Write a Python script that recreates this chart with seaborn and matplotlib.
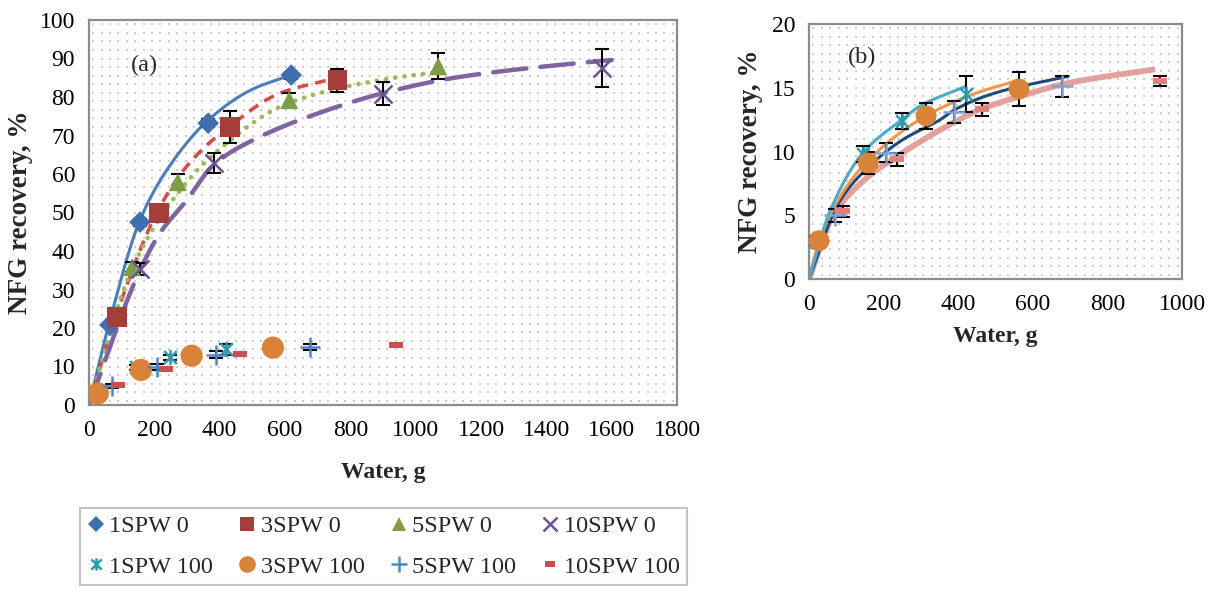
import numpy as np
import matplotlib
matplotlib.use("Agg")
import matplotlib.pyplot as plt
from matplotlib.path import Path
from matplotlib.lines import Line2D
import seaborn as sns

sns.set_theme(style="white")
plt.rcParams["font.family"] = ["Liberation Serif", "DejaVu Serif"]

# ---------------- measured points (water, g ; NFG recovery, %) ----------------
w_1spw0 = [64, 156, 365, 619]
r_1spw0 = [20.8, 47.5, 73.2, 85.7]
e_1spw0 = [0.6, 0.9, 1.0, 0.9]

w_3spw0 = [86, 214, 432, 760]
r_3spw0 = [22.9, 49.9, 72.2, 84.4]
e_3spw0 = [1.0, 1.2, 4.2, 3.0]

w_5spw0 = [132, 272, 613, 1069]
r_5spw0 = [35.8, 57.9, 79.2, 88.0]
e_5spw0 = [1.3, 2.0, 1.8, 3.4]

w_10spw0 = [156, 383, 900, 1571]
r_10spw0 = [35.3, 62.9, 80.8, 87.5]
e_10spw0 = [1.5, 2.6, 3.0, 5.0]

w_1spw100 = [6, 145, 249, 420]
r_1spw100 = [3.0, 9.8, 12.4, 14.5]
e_1spw100 = [0.3, 0.6, 0.6, 1.4]

w_3spw100 = [27, 159, 314, 563]
r_3spw100 = [3.0, 9.1, 12.8, 14.9]
e_3spw100 = [0.3, 0.9, 1.0, 1.35]

w_5spw100 = [70, 207, 389, 678]
r_5spw100 = [5.0, 9.9, 13.1, 15.1]
e_5spw100 = [0.5, 0.75, 0.9, 0.8]

w_10spw100 = [90, 235, 463, 940]
r_10spw100 = [5.3, 9.4, 13.3, 15.5]
e_10spw100 = [0.4, 0.5, 0.5, 0.4]

# ---------------- fitted recovery curves (knots along each curve) ----------------
fx_1spw0 = [0, 64, 156, 238, 365, 500, 619]
fy_1spw0 = [0, 22.0, 48.0, 61.0, 74.0, 82.0, 85.7]
fx_3spw0 = [0, 86, 214, 309, 432, 585, 750]
fy_3spw0 = [0, 24.0, 51.0, 63.0, 72.5, 81.0, 84.8]
fx_5spw0 = [0, 132, 272, 380, 613, 891, 1069]
fy_5spw0 = [0, 35.5, 55.0, 65.0, 78.5, 84.4, 86.5]
fx_10spw0 = [0, 156, 217, 299, 383, 514, 686, 900, 1126, 1402, 1600]
fy_10spw0 = [0, 35.0, 44.6, 53.2, 62.5, 69.3, 75.3, 81.0, 85.1, 88.0, 89.6]

fx_1spw100 = [0, 56, 145, 249, 300, 420]
fy_1spw100 = [0, 5.3, 9.9, 12.5, 13.6, 15.1]
fx_3spw100 = [0, 27, 80, 159, 314, 450, 563]
fy_3spw100 = [0, 2.9, 6.3, 9.3, 12.8, 14.6, 15.6]
fx_5spw100 = [0, 80, 160, 250, 352, 392, 500, 695]
fy_5spw100 = [0, 6.0, 8.8, 10.9, 12.5, 13.3, 14.6, 15.9]
fx_10spw100 = [0, 65, 150, 235, 396, 459, 563, 692, 928]
fy_10spw100 = [0, 5.0, 7.8, 9.6, 12.4, 13.3, 14.3, 15.35, 16.45]

labels = ["1SPW 0", "3SPW 0", "5SPW 0", "10SPW 0",
          "1SPW 100", "3SPW 100", "5SPW 100", "10SPW 100"]


def smooth(xk, yk, n=200):
    """Monotone cubic (Fritsch-Carlson) curve through the knots."""
    x = np.asarray(xk, float)
    y = np.asarray(yk, float)
    h = np.diff(x)
    d = np.diff(y) / h
    m = np.zeros_like(x)
    m[0], m[-1] = d[0], d[-1]
    for k in range(1, len(x) - 1):
        if d[k - 1] * d[k] > 0:
            w1 = 2 * h[k] + h[k - 1]
            w2 = h[k] + 2 * h[k - 1]
            m[k] = (w1 + w2) / (w1 / d[k - 1] + w2 / d[k])
    xs = np.linspace(x[0], x[-1], n)
    idx = np.clip(np.searchsorted(x, xs) - 1, 0, len(x) - 2)
    t = (xs - x[idx]) / h[idx]
    h00 = 2 * t**3 - 3 * t**2 + 1
    h10 = t**3 - 2 * t**2 + t
    h01 = -2 * t**3 + 3 * t**2
    h11 = t**3 - t**2
    ys = h00 * y[idx] + h10 * h[idx] * m[idx] + h01 * y[idx + 1] + h11 * h[idx] * m[idx + 1]
    return xs, ys


# marker shapes
star_path = Path([(-1, -1), (1, 1), (-1, 1), (1, -1), (0, -1.2), (0, 1.2)],
                 [Path.MOVETO, Path.LINETO, Path.MOVETO, Path.LINETO, Path.MOVETO, Path.LINETO])
dash_path = Path([(-1, -0.5), (1, -0.5), (1, 0.5), (-1, 0.5), (-1, -0.5)],
                 [Path.MOVETO, Path.LINETO, Path.LINETO, Path.LINETO, Path.CLOSEPOLY])

# marker styling per series
mk = {
    "1SPW 0": dict(marker="D", color="#3F6FAC", ms=11, filled=True),
    "3SPW 0": dict(marker="s", color="#A33E3B", ms=14, filled=True),
    "5SPW 0": dict(marker="^", color="#7F9D47", ms=13, filled=True),
    "10SPW 0": dict(marker="x", color="#6B5590", ms=13, filled=False, mew=1.8),
    "1SPW 100": dict(marker=star_path, color="#2E9AAF", ms=11, filled=False, mew=1.8),
    "3SPW 100": dict(marker="o", color="#D9823A", ms=16, filled=True),
    "5SPW 100": dict(marker="+", color="#4F86C6", ms=14, filled=False, mew=1.8),
    "10SPW 100": dict(marker=dash_path, color="#C9504C", ms=10, filled=True),
}
mk_b = dict(mk)
mk_b["5SPW 100"] = dict(marker="+", color="#7FA3D2", ms=16, filled=False, mew=1.8)
mk_b["10SPW 100"] = dict(marker=dash_path, color="#E0807C", ms=10, filled=True)
mk_b["3SPW 100"] = dict(marker="o", color="#D9823A", ms=15, filled=True)

series = {
    "1SPW 0": (w_1spw0, r_1spw0, e_1spw0),
    "3SPW 0": (w_3spw0, r_3spw0, e_3spw0),
    "5SPW 0": (w_5spw0, r_5spw0, e_5spw0),
    "10SPW 0": (w_10spw0, r_10spw0, e_10spw0),
    "1SPW 100": (w_1spw100, r_1spw100, e_1spw100),
    "3SPW 100": (w_3spw100, r_3spw100, e_3spw100),
    "5SPW 100": (w_5spw100, r_5spw100, e_5spw100),
    "10SPW 100": (w_10spw100, r_10spw100, e_10spw100),
}


def draw_markers(ax, name, style, zorder=5):
    x, y, e = series[name]
    ax.errorbar(x, y, yerr=e, fmt="none", ecolor="black", elinewidth=1.5,
                capsize=5, capthick=1.5, zorder=zorder - 1)
    if style["filled"] and isinstance(style["marker"], str):
        sns.scatterplot(x=x, y=y, ax=ax, marker=style["marker"], color=style["color"],
                        s=style["ms"] ** 2, edgecolor="none", linewidth=0,
                        zorder=zorder, legend=False)
    elif style["filled"]:
        ax.plot(x, y, linestyle="none", marker=style["marker"], ms=style["ms"],
                mfc=style["color"], mec=style["color"], mew=0, zorder=zorder)
    else:
        ax.plot(x, y, linestyle="none", marker=style["marker"], ms=style["ms"],
                mfc="none", mec=style["color"], mew=style.get("mew", 1.5), zorder=zorder)


def dotted_background(ax, w_px, h_px, step=8.4):
    nx = int(w_px / step)
    ny = int(h_px / step)
    gx, gy = np.meshgrid((np.arange(nx) + 0.5) / nx, (np.arange(ny) + 0.5) / ny)
    ax.scatter(gx.ravel(), gy.ravel(), s=2.2, color="#cdcdcd", marker="s",
               linewidths=0, transform=ax.transAxes, zorder=0)


def style_axes(ax):
    for sp in ax.spines.values():
        sp.set_color("#8c8c8c")
        sp.set_linewidth(1.6)
    ax.tick_params(axis="both", direction="out", length=6, width=1.4, color="#8c8c8c",
                   labelsize=17, labelcolor="black", pad=4)
    ax.tick_params(axis="x", pad=5)


fig = plt.figure(figsize=(12.17, 5.9), dpi=100)
ax_a = fig.add_axes([89 / 1217, 1 - 405 / 590, 588 / 1217, 385 / 590])
ax_b = fig.add_axes([809 / 1217, 1 - 279 / 590, 373 / 1217, 255 / 590])

# ---------------- panel (a) ----------------
dotted_background(ax_a, 588, 385)
curve_a = [
    (fx_1spw0, fy_1spw0, dict(color="#4A7EBB", lw=2.2, ls="-")),
    (fx_3spw0, fy_3spw0, dict(color="#D2504B", lw=2.6, ls=(0, (3.0, 2.0)))),
    (fx_5spw0, fy_5spw0, dict(color="#9BBB59", lw=3.2, ls=(0, (0.1, 2.0)),
                              dash_capstyle="round")),
    (fx_10spw0, fy_10spw0, dict(color="#8064A2", lw=3.2, ls=(0, (7.5, 3.2)),
                                dash_capstyle="round")),
]
for fx, fy, kw in curve_a:
    xs, ys = smooth(fx, fy)
    ax_a.plot(xs, ys, zorder=2, **kw)

for name in labels:
    draw_markers(ax_a, name, mk[name])

ax_a.set_xlim(0, 1800)
ax_a.set_ylim(0, 100)
ax_a.set_xticks(np.arange(0, 1801, 200))
ax_a.set_yticks(np.arange(0, 101, 10))
ax_a.set_xlabel("Water, g", fontsize=17, fontweight="bold", labelpad=15)
ax_a.set_ylabel("NFG recovery, %", fontsize=19.5, fontweight="bold", labelpad=5)
style_axes(ax_a)
ax_a.text(0.095, 0.883, "(a)", transform=ax_a.transAxes, fontsize=17.5,
          ha="center", va="center")

# ---------------- panel (b) ----------------
dotted_background(ax_b, 373, 255)
curve_b = [
    (fx_10spw100, fy_10spw100, dict(color="#E3A09D", lw=4.2, solid_capstyle="butt")),
    (fx_5spw100, fy_5spw100, dict(color="#1F497D", lw=2.2)),
    (fx_3spw100, fy_3spw100, dict(color="#F79646", lw=2.2)),
    (fx_1spw100, fy_1spw100, dict(color="#4BACC6", lw=2.2)),
]
for fx, fy, kw in curve_b:
    xs, ys = smooth(fx, fy)
    ax_b.plot(xs, ys, zorder=2, **kw)

for name in labels[4:]:
    draw_markers(ax_b, name, mk_b[name])

ax_b.set_xlim(0, 1000)
ax_b.set_ylim(0, 20)
ax_b.set_xticks(np.arange(0, 1001, 200))
ax_b.set_yticks(np.arange(0, 21, 5))
ax_b.set_xlabel("Water, g", fontsize=17, fontweight="bold", labelpad=8)
ax_b.set_ylabel("NFG recovery, %", fontsize=19.5, fontweight="bold", labelpad=6)
style_axes(ax_b)
ax_b.text(0.142, 0.867, "(b)", transform=ax_b.transAxes, fontsize=17.5,
          ha="center", va="center")

# ---------------- legend ----------------
handles = {}
for name in labels:
    st = mk[name]
    if st["filled"]:
        handles[name] = Line2D([], [], linestyle="none", marker=st["marker"],
                               ms=st["ms"] * 0.75, mfc=st["color"], mec=st["color"], mew=0)
    else:
        handles[name] = Line2D([], [], linestyle="none", marker=st["marker"],
                               ms=st["ms"] * 0.8, mfc="none", mec=st["color"],
                               mew=st.get("mew", 1.5))
order = ["1SPW 0", "1SPW 100", "3SPW 0", "3SPW 100",
         "5SPW 0", "5SPW 100", "10SPW 0", "10SPW 100"]
leg = fig.legend([handles[n] for n in order], order, ncol=4,
                 loc="center", bbox_to_anchor=(80 / 1217, 2 / 590, 607 / 1217, 83 / 590),
                 mode="expand", fontsize=17.5, frameon=True, fancybox=False,
                 handlelength=0.7, handletextpad=0.2, columnspacing=1.0,
                 labelspacing=0.75, borderpad=0.3, borderaxespad=0)
leg.get_frame().set_edgecolor("#b5b5b5")
leg.get_frame().set_linewidth(1.5)

fig.savefig("out.png", dpi=100)
